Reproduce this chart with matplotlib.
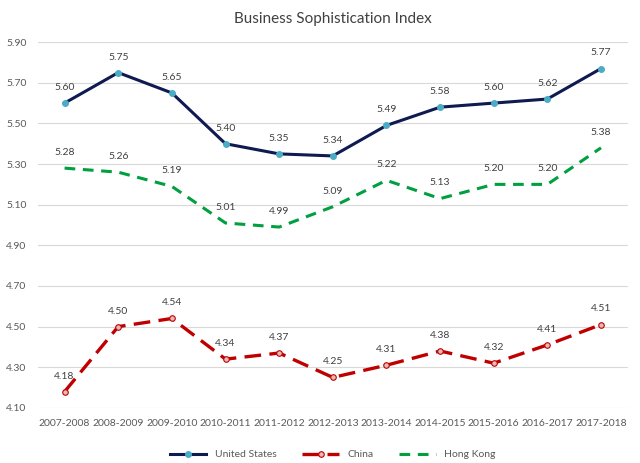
import matplotlib.pyplot as plt

plt.rcParams['font.family'] = ['Lato', 'DejaVu Sans']

years = ['2007-2008', '2008-2009', '2009-2010', '2010-2011', '2011-2012', '2012-2013',
         '2013-2014', '2014-2015', '2015-2016', '2016-2017', '2017-2018']
us = [5.60, 5.75, 5.65, 5.40, 5.35, 5.34, 5.49, 5.58, 5.60, 5.62, 5.77]
china = [4.18, 4.50, 4.54, 4.34, 4.37, 4.25, 4.31, 4.38, 4.32, 4.41, 4.51]
hk = [5.28, 5.26, 5.19, 5.01, 4.99, 5.09, 5.22, 5.13, 5.20, 5.20, 5.38]
yticks = [4.10, 4.30, 4.50, 4.70, 4.90, 5.10, 5.30, 5.50, 5.70, 5.90]

fig = plt.figure(figsize=(6.4, 4.63), dpi=100)
ax = fig.add_axes([0.059, 0.119, 0.922, 0.79])
x = list(range(len(years)))

ax.plot(x, us, color='#0e1a50', lw=2.2, marker='o', ms=4,
        mfc='#4bacc6', mec='#4bacc6', label='United States', zorder=3)
ax.plot(x, china, color='#c00000', lw=2.4, dashes=(5, 2.5), marker='o', ms=4,
        mfc='#e6b8b7', mec='#c00000', mew=0.8, label='China', zorder=3)
ax.plot(x, hk, color='#00a040', lw=2.2, dashes=(3.5, 2.5), label='Hong Kong', zorder=3)

for series in (us, china, hk):
    for i, v in enumerate(series):
        ax.annotate(f'{v:.2f}', (i, v), xytext=(0, 8), textcoords='offset points',
                    ha='center', va='bottom', fontsize=7.5, color='#404040')

ax.set_xlim(-0.5, 10.5)
ax.set_ylim(4.10, 5.90)
ax.set_yticks(yticks)
ax.set_yticklabels([f'{t:.2f}' for t in yticks])
ax.set_xticks(x)
ax.set_xticklabels(years)
ax.tick_params(length=0, labelsize=7.5, labelcolor='#595959')
ax.tick_params(axis='y', pad=8)
ax.tick_params(axis='x', pad=8)
ax.grid(axis='y', color='#d9d9d9', lw=0.8)
ax.set_axisbelow(True)
for s in ax.spines.values():
    s.set_visible(False)

ax.set_title('Business Sophistication Index', fontsize=11, color='#404040', pad=14)
ax.legend(loc='upper center', bbox_to_anchor=(0.5, -0.09), ncol=3, frameon=False,
          fontsize=7.5, labelcolor='#595959', handlelength=3.5, columnspacing=2.5)

fig.savefig('out.png', dpi=100)
